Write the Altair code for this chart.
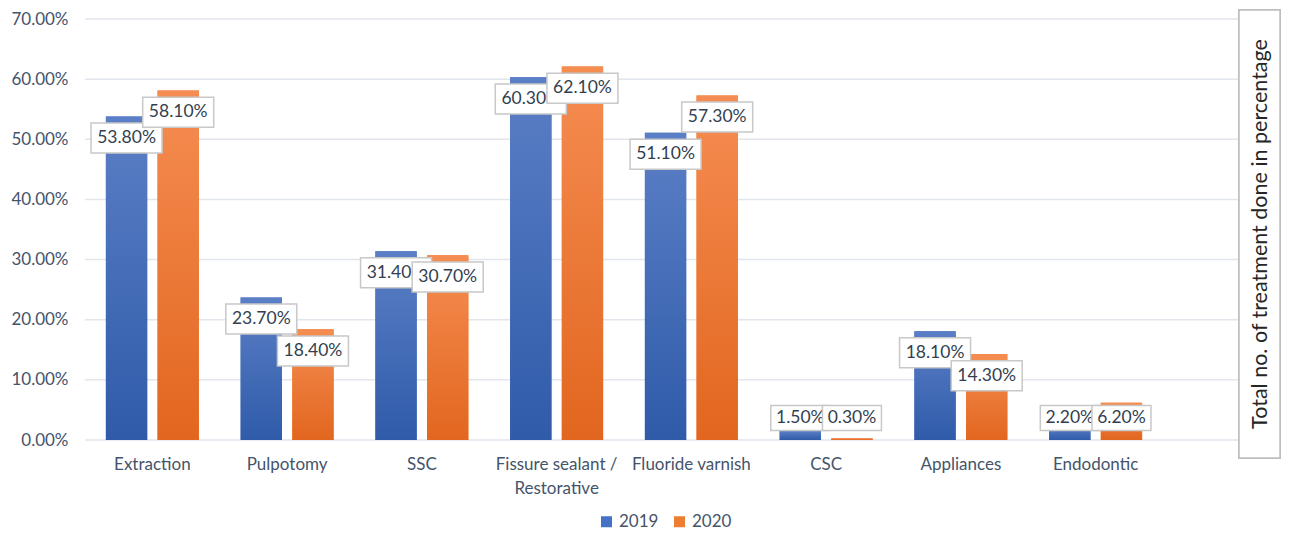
import altair as alt
import pandas as pd

categories = ["Extraction", "Pulpotomy", "SSC", "Fissure sealant / Restorative",
              "Fluoride varnish", "CSC", "Appliances", "Endodontic"]
years = ["2019", "2020"]
v2019 = [53.8, 23.7, 31.4, 60.3, 51.1, 1.5, 18.1, 2.2]
v2020 = [58.1, 18.4, 30.7, 62.1, 57.3, 0.3, 14.3, 6.2]
y_ticks = [0, 10, 20, 30, 40, 50, 60, 70]
axis_title = "Total no. of treatment done in percentage"

rows = []
for c, a, b in zip(categories, v2019, v2020):
    rows.append({"cat": c, "year": "2019", "value": a})
    rows.append({"cat": c, "year": "2020", "value": b})
df = pd.DataFrame(rows)
ticks_df = pd.DataFrame({"tick": y_ticks})

FONT = "Lato"
AXIS_COLOR = "#44546a"

yscale = alt.Scale(domain=[0, 70], nice=False, zero=True)
xscale = alt.Scale(domain=categories, paddingInner=0.31, paddingOuter=0.155)
xoff_scale = alt.Scale(domain=years, paddingInner=0.2)

X = alt.X("cat:N", sort=categories, scale=xscale, title=None,
          axis=alt.Axis(labelAngle=0, ticks=False, domain=False, grid=False, labelFont=FONT,
                        labelFontSize=17, labelColor=AXIS_COLOR, labelPadding=16,
                        labelLineHeight=24,
                        labelExpr="datum.label == 'Fissure sealant / Restorative' ? ['Fissure sealant /', 'Restorative'] : datum.label"))
XO = alt.XOffset("year:N", scale=xoff_scale)
Y = alt.Y("value:Q", scale=yscale, title=None,
          axis=alt.Axis(values=y_ticks, grid=False, domain=False, ticks=False,
                        labelFont=FONT, labelFontSize=17, labelColor=AXIS_COLOR,
                        labelPadding=17,
                        labelExpr="format(datum.value, '.2f') + '%'"))

base = alt.Chart(df)

grid = alt.Chart(ticks_df).mark_rule(color="#e1e5ec", strokeWidth=1.5).encode(
    y=alt.Y("tick:Q", scale=yscale),
    x=alt.value(0), x2=alt.value(1196),
)

legend_bars = base.mark_bar().encode(
    x=X, xOffset=XO, y=Y,
    color=alt.Color("year:N", scale=alt.Scale(domain=years, range=["#4472c4", "#ed7d31"]),
                    legend=alt.Legend(title=None, orient="none", legendX=513, legendY=494,
                                      direction="horizontal", symbolType="square",
                                      symbolSize=121, symbolStrokeWidth=0,
                                      labelFont=FONT, labelFontSize=17,
                                      labelColor=AXIS_COLOR, labelOffset=4,
                                      columnPadding=12)),
)


def grad(top, bottom):
    return alt.LinearGradient(gradient="linear",
                              stops=[alt.GradientStop(color=top, offset=0),
                                     alt.GradientStop(color=bottom, offset=1)],
                              x1=0, x2=0, y1=0, y2=1)


bars19 = base.transform_filter("datum.year == '2019'").mark_bar(
    color=grad("#5b7fc6", "#2f5ba9")).encode(x=X, xOffset=XO, y=Y)
bars20 = base.transform_filter("datum.year == '2020'").mark_bar(
    color=grad("#f58d52", "#e2661f")).encode(x=X, xOffset=XO, y=Y)

box_path = "M-1,-0.4225L1,-0.4225L1,0.4225L-1,0.4225Z"


def labels(year):
    src = base.transform_filter(f"datum.year == '{year}'").transform_calculate(
        ly="max(datum.value - 3.6, 3.66)",
        txt="format(datum.value, '.2f') + '%'",
    ).transform_calculate(
        bs="pow(length(datum.txt) == 6 ? 71 : 59, 2)"
    )
    box = src.mark_point(shape=box_path, filled=True, fill="white", stroke="#c8c8c8",
                         strokeWidth=1.5, opacity=1, fillOpacity=1).encode(
        x=X, xOffset=XO, y=alt.Y("ly:Q", scale=yscale),
        size=alt.Size("bs:Q", scale=None, legend=None))
    txt = src.mark_text(font=FONT, fontSize=17.5, color="#333f50", baseline="middle").encode(
        x=X, xOffset=XO, y=alt.Y("ly:Q", scale=yscale), text="txt:N")
    return box + txt


title_box = alt.Chart(ticks_df).mark_rect(fill="white", stroke="#bfbfbf", strokeWidth=1.5).encode(
    x=alt.value(1154), x2=alt.value(1195), y=alt.value(-9), y2=alt.value(439))
title_text = alt.Chart(pd.DataFrame({"t": [axis_title]})).mark_text(
    font=FONT, fontSize=21.5, color="#262626", angle=270, baseline="middle", align="center").encode(
    x=alt.value(1176), y=alt.value(215), text="t:N")

chart = alt.layer(
    grid, legend_bars, bars19, bars20, labels("2019"), labels("2020"), title_box, title_text
).properties(
    width=1078, height=421, autosize="none", background="white",
    padding={"left": 77, "top": 11, "right": 118, "bottom": 92},
).configure_view(stroke=None)

chart.save("out.html", embed_options={"renderer": "svg", "actions": False})
